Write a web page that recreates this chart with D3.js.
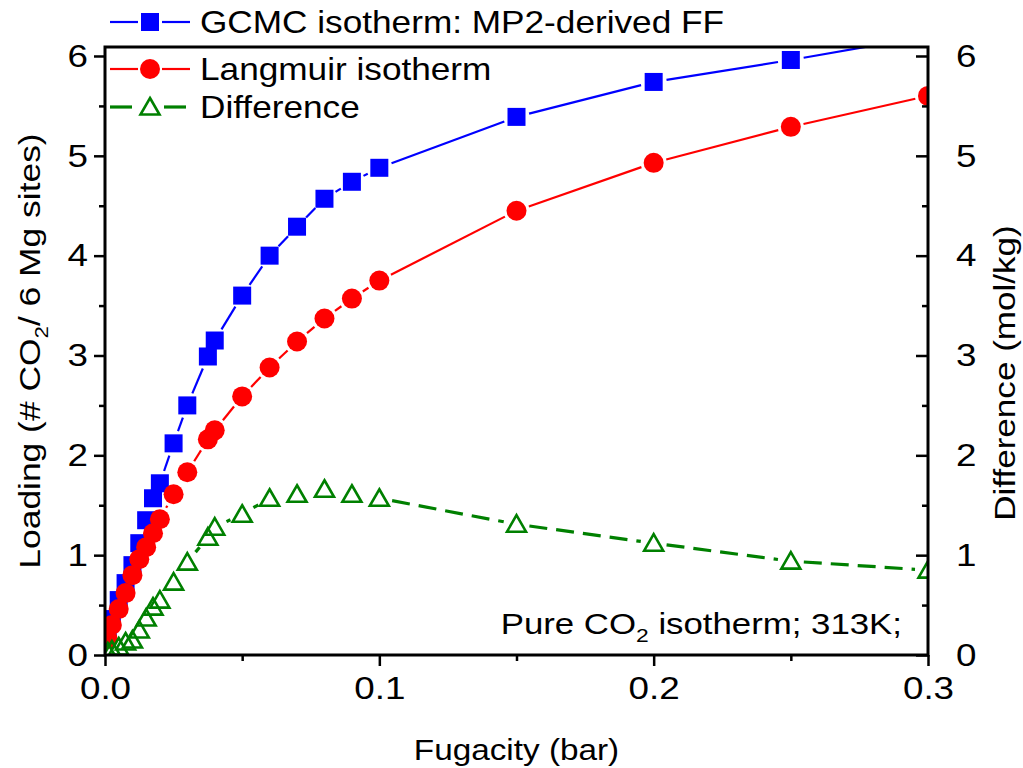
<!DOCTYPE html>
<html>
<head>
<meta charset="utf-8">
<title>CO2 isotherm</title>
<script src="https://cdn.jsdelivr.net/npm/d3@7"></script>
<style>
  body { margin: 0; background: #fff; }
  svg { display: block; }
  text { font-family: "Liberation Sans", Arial, sans-serif; fill: #000; }
</style>
</head>
<body>
<script>
// fugacity (bar)
var fugacity = [0.001, 0.0025, 0.005, 0.0075, 0.01, 0.0125, 0.015, 0.0175, 0.02, 0.025, 0.03, 0.0375, 0.04,
                0.05, 0.06, 0.07, 0.08, 0.09, 0.1, 0.15, 0.2, 0.25, 0.3];
// GCMC isotherm (# CO2 / 6 Mg sites)
var gcmc = [0.2, 0.36, 0.55, 0.72, 0.9, 1.12, 1.35, 1.57, 1.72, 2.12, 2.5, 2.99, 3.15,
            3.6, 4.0, 4.29, 4.57, 4.74, 4.88, 5.39, 5.74, 5.96, 6.2];
// Langmuir isotherm
var langmuir = [0.16, 0.3, 0.46, 0.62, 0.8, 0.96, 1.08, 1.22, 1.36, 1.61, 1.83, 2.16, 2.25,
                2.59, 2.88, 3.14, 3.37, 3.57, 3.75, 4.45, 4.93, 5.29, 5.6];
// difference (mol/kg)
var diff = [0.03, 0.05, 0.08, 0.13, 0.15, 0.25, 0.37, 0.48, 0.55, 0.73, 0.93, 1.18, 1.28,
            1.41, 1.57, 1.61, 1.66, 1.61, 1.57, 1.31, 1.12, 0.94, 0.85];

var xTicks = [0, 0.1, 0.2, 0.3];
var xMinor = [0.05, 0.15, 0.25];
var yTicks = [0, 1, 2, 3, 4, 5, 6];
var yMinor = [0.5, 1.5, 2.5, 3.5, 4.5, 5.5];

var width = 1023, height = 768;
var margin = {top: 47, right: 95, bottom: 113, left: 105};

var svg = d3.select("body").append("svg")
    .attr("width", width)
    .attr("height", height);

var x = d3.scaleLinear().domain([0, 0.3]).range([margin.left, width - margin.right]);
var y = d3.scaleLinear().domain([0, 6.09]).range([height - margin.bottom, margin.top]);
var y2 = d3.scaleLinear().domain([0, 6.09]).range([height - margin.bottom, margin.top]);

svg.append("clipPath").attr("id", "plot")
  .append("rect")
    .attr("x", x(0)).attr("y", y(6.09))
    .attr("width", x(0.3) - x(0)).attr("height", y(0) - y(6.09));

// line pieces with a gap around each marker
function gapped(pts, gap) {
  var segs = [];
  for (var i = 1; i < pts.length; i++) {
    var a = pts[i - 1], b = pts[i];
    var dx = b[0] - a[0], dy = b[1] - a[1], d = Math.sqrt(dx * dx + dy * dy);
    if (d <= 2 * gap + 2) continue;
    var ux = dx / d, uy = dy / d;
    segs.push([[a[0] + ux * gap, a[1] + uy * gap], [b[0] - ux * gap, b[1] - uy * gap]]);
  }
  return segs;
}

var series = [
  {name: "GCMC isotherm: MP2-derived FF", vals: gcmc, scale: y, color: "#0000ff", marker: "square", dash: null, lw: 2.2},
  {name: "Langmuir isotherm", vals: langmuir, scale: y, color: "#ff0000", marker: "circle", dash: null, lw: 2.2},
  {name: "Difference", vals: diff, scale: y2, color: "#008000", marker: "triangle", dash: "18,9", lw: 3.2}
];

var plot = svg.append("g").attr("clip-path", "url(#plot)");

function drawMarker(g, type, color, cx, cy) {
  if (type === "square") {
    g.append("rect").attr("x", cx - 9).attr("y", cy - 9).attr("width", 18).attr("height", 18)
      .attr("fill", color);
  } else if (type === "circle") {
    g.append("circle").attr("cx", cx).attr("cy", cy).attr("r", 10).attr("fill", color);
  } else {
    g.append("path")
      .attr("d", "M" + cx + "," + (cy - 9) + "L" + (cx + 9.5) + "," + (cy + 7.5) + "L" + (cx - 9.5) + "," + (cy + 7.5) + "Z")
      .attr("fill", "none").attr("stroke", color).attr("stroke-width", 2.6);
  }
}

series.forEach(function(s) {
  var pts = fugacity.map(function(f, i) { return [x(f), s.scale(s.vals[i])]; });
  var g = plot.append("g");
  g.selectAll("line").data(gapped(pts, 13)).join("line")
    .attr("x1", d => d[0][0]).attr("y1", d => d[0][1])
    .attr("x2", d => d[1][0]).attr("y2", d => d[1][1])
    .attr("stroke", s.color).attr("stroke-width", s.lw)
    .attr("stroke-dasharray", s.dash);
  pts.forEach(function(p) { drawMarker(g, s.marker, s.color, p[0], p[1]); });
});

// stretched text helper (the original font is a bit wider than Liberation Sans)
function label(parent, tx, ty, size, sx, anchor, rot) {
  var t = parent.append("text")
    .attr("transform", "translate(" + tx + "," + ty + ")" + (rot ? " rotate(" + rot + ")" : "") + " scale(" + sx + ",1)")
    .attr("text-anchor", anchor)
    .style("font-size", size + "px");
  return t;
}

// axes
var tfs = 32, tsx = 1.15;
svg.append("g").attr("class", "xa").attr("transform", "translate(0," + y(0) + ")")
  .call(d3.axisBottom(x).tickValues(xTicks).tickFormat(d3.format(".1f")).tickSize(11).tickSizeOuter(0).tickPadding(10));
svg.append("g").attr("transform", "translate(0," + y(0) + ")")
  .call(d3.axisBottom(x).tickValues(xMinor).tickFormat("").tickSize(6).tickSizeOuter(0));

svg.append("g").attr("class", "yl").attr("transform", "translate(" + x(0) + ",0)")
  .call(d3.axisLeft(y).tickValues(yTicks).tickFormat(d3.format("d")).tickSize(11).tickSizeOuter(0).tickPadding(6));
svg.append("g").attr("transform", "translate(" + x(0) + ",0)")
  .call(d3.axisLeft(y).tickValues(yMinor).tickFormat("").tickSize(6).tickSizeOuter(0));

svg.append("g").attr("class", "yr").attr("transform", "translate(" + x(0.3) + ",0)")
  .call(d3.axisRight(y2).tickValues(yTicks).tickFormat(d3.format("d")).tickSize(-12).tickSizeOuter(0).tickPadding(28));
svg.append("g").attr("transform", "translate(" + x(0.3) + ",0)")
  .call(d3.axisRight(y2).tickValues(yMinor).tickFormat("").tickSize(-6).tickSizeOuter(0));

svg.selectAll(".domain").remove();
svg.selectAll(".tick line").attr("stroke", "#000").attr("stroke-width", 2.5);
svg.selectAll(".tick text").style("font-size", tfs + "px").attr("fill", "#000")
  .attr("x", function() { return (+d3.select(this).attr("x") || 0) / tsx; })
  .attr("transform", "scale(" + tsx + ",1)");

// frame
svg.append("rect")
  .attr("x", x(0)).attr("y", y(6.09))
  .attr("width", x(0.3) - x(0)).attr("height", y(0) - y(6.09))
  .attr("fill", "none").attr("stroke", "#000").attr("stroke-width", 3);

// axis titles
label(svg, (x(0) + x(0.3)) / 2, 760, 30, 1.11, "middle").text("Fugacity (bar)");

var lt = label(svg, 40, (y(0) + y(6.09)) / 2, 30, 1.18, "middle", -90);
lt.append("tspan").text("Loading (# CO");
lt.append("tspan").text("2").style("font-size", "19px").attr("dy", 8);
lt.append("tspan").text("/ 6 Mg sites)").attr("dy", -8);

label(svg, 1015, 373, 30, 1.17, "middle", -90).text("Difference (mol/kg)");

// annotation
var ann = label(svg, 902, 634, 29, 1.2, "end");
ann.append("tspan").text("Pure CO");
ann.append("tspan").text("2").style("font-size", "19px").attr("dy", 8);
ann.append("tspan").text(" isotherm; 313K;").attr("dy", -8);

// legend
var legend = svg.append("g");
var rowY = [22, 69, 107];
series.forEach(function(s, i) {
  var g = legend.append("g");
  var cy = rowY[i];
  if (s.dash) {
    g.append("line").attr("x1", 110).attr("x2", 132).attr("y1", cy).attr("y2", cy)
      .attr("stroke", s.color).attr("stroke-width", s.lw);
    g.append("line").attr("x1", 164).attr("x2", 186).attr("y1", cy).attr("y2", cy)
      .attr("stroke", s.color).attr("stroke-width", s.lw);
  } else {
    g.append("line").attr("x1", 110).attr("x2", 138).attr("y1", cy).attr("y2", cy)
      .attr("stroke", s.color).attr("stroke-width", s.lw);
    g.append("line").attr("x1", 162).attr("x2", 190).attr("y1", cy).attr("y2", cy)
      .attr("stroke", s.color).attr("stroke-width", s.lw);
  }
  drawMarker(g, s.marker, s.color, 150, cy);
  label(g, 200, cy + 11, 32, 1.1, "start").text(s.name);
});
</script>
</body>
</html>
